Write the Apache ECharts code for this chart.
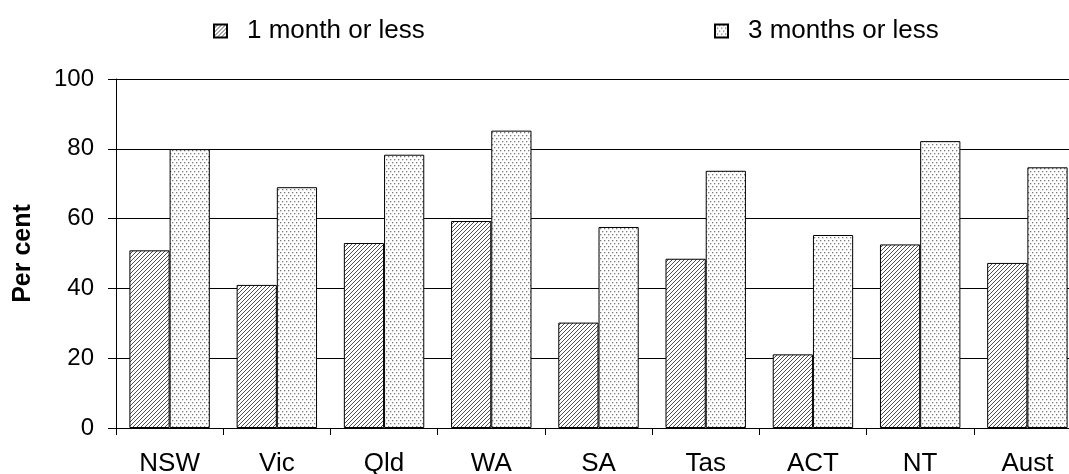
<!DOCTYPE html>
<html>
<head>
<meta charset="utf-8">
<script src="https://cdn.jsdelivr.net/npm/echarts@6/dist/echarts.min.js"></script>
<style>
  html, body { margin: 0; padding: 0; background: #fff; }
  #chart { width: 1069px; height: 474px; }
</style>
</head>
<body>
<div id="chart"></div>
<script>
// States and territories, plus the national total
const categories = ['NSW', 'Vic', 'Qld', 'WA', 'SA', 'Tas', 'ACT', 'NT', 'Aust'];
// Per cent of cases finalised within each time frame
const oneMonthOrLess = [50.9, 41.0, 53.0, 59.3, 30.2, 48.5, 21.1, 52.6, 47.3];
const threeMonthsOrLess = [79.9, 69.0, 78.3, 85.2, 57.6, 73.7, 55.3, 82.2, 74.7];
const seriesNames = ['1 month or less', '3 months or less'];
const yTicks = [0, 20, 40, 60, 80, 100];

// Diagonal hatching tile
function hatchPattern() {
  const s = 4;
  const c = document.createElement('canvas');
  c.width = s; c.height = s;
  const ctx = c.getContext('2d');
  ctx.fillStyle = '#ffffff';
  ctx.fillRect(0, 0, s, s);
  ctx.strokeStyle = '#505050';
  ctx.lineWidth = 1;
  for (let k = -1; k <= 1; k++) {
    ctx.beginPath();
    ctx.moveTo(-1 + k * s, s + 1);
    ctx.lineTo(s + 1 + k * s, -1);
    ctx.stroke();
  }
  return c;
}

// Staggered dot tile
function dotPattern() {
  const w = 4, h = 6;
  const c = document.createElement('canvas');
  c.width = w; c.height = h;
  const ctx = c.getContext('2d');
  ctx.fillStyle = '#ffffff';
  ctx.fillRect(0, 0, w, h);
  ctx.fillStyle = '#7a7a7a';
  ctx.fillRect(0, 0, 1.3, 1.3);
  ctx.fillRect(2, 3, 1.3, 1.3);
  return c;
}

const hatchFill = { image: hatchPattern(), repeat: 'repeat' };
const dotFill = { image: dotPattern(), repeat: 'repeat' };

const fontFamily = '"Liberation Sans", Arial, sans-serif';
const chart = echarts.init(document.getElementById('chart'), null, { renderer: 'canvas' });

const legendText = { fontFamily: fontFamily, fontSize: 26, color: '#000', padding: [0, 0, 0, 15] };

chart.setOption({
  animation: false,
  backgroundColor: '#ffffff',
  legend: [
    {
      data: [seriesNames[0]], left: 208, top: 13,
      itemWidth: 13, itemHeight: 13, itemGap: 0,
      textStyle: legendText,
      icon: 'rect'
    },
    {
      data: [seriesNames[1]], left: 709, top: 13,
      itemWidth: 13, itemHeight: 13, itemGap: 0,
      textStyle: legendText,
      icon: 'rect'
    }
  ],
  grid: { left: 116, top: 79, right: -12, bottom: 46, containLabel: false, outerBoundsMode: 'none' },
  xAxis: {
    type: 'category',
    data: categories,
    axisLine: { lineStyle: { color: '#000', width: 1 } },
    axisTick: { show: true, length: 7, lineStyle: { color: '#000' } },
    axisLabel: { margin: 23, fontFamily: fontFamily, fontSize: 26, color: '#000' }
  },
  yAxis: {
    type: 'value',
    min: yTicks[0],
    max: yTicks[yTicks.length - 1],
    interval: yTicks[1] - yTicks[0],
    name: 'Per cent',
    nameLocation: 'middle',
    nameGap: 80,
    nameTextStyle: { fontFamily: fontFamily, fontSize: 25, fontWeight: 'bold', color: '#000' },
    axisLine: { show: true, lineStyle: { color: '#000', width: 1 } },
    axisTick: { show: true, inside: false, length: 8, lineStyle: { color: '#000' } },
    axisLabel: { margin: 22, fontFamily: fontFamily, fontSize: 24, color: '#000' },
    splitLine: { show: true, lineStyle: { color: '#000', width: 1 } }
  },
  series: [
    {
      name: seriesNames[0],
      type: 'bar',
      data: oneMonthOrLess,
      barGap: '0%',
      barCategoryGap: '25%',
      itemStyle: { color: hatchFill, borderColor: '#000', borderWidth: 1 }
    },
    {
      name: seriesNames[1],
      type: 'bar',
      data: threeMonthsOrLess,
      barGap: '0%',
      barCategoryGap: '25%',
      itemStyle: { color: dotFill, borderColor: '#000', borderWidth: 1 }
    }
  ]
});
</script>
</body>
</html>
